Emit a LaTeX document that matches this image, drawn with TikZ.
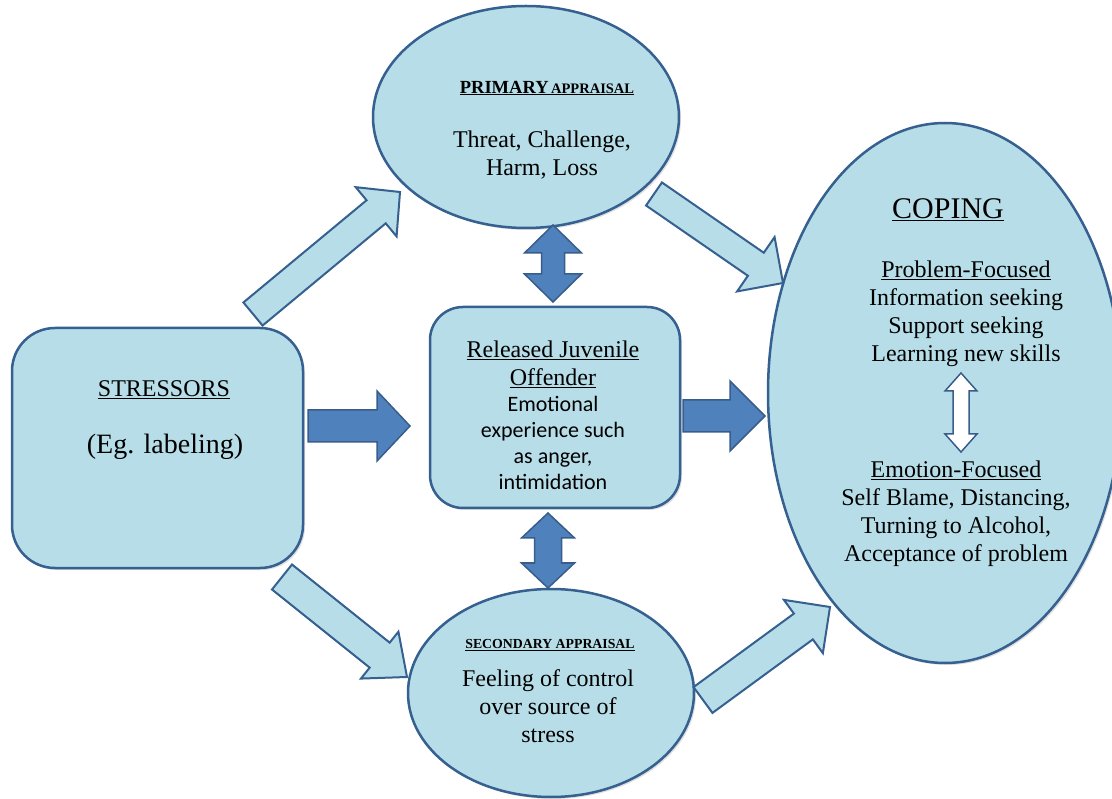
\documentclass[tikz,border=0pt]{standalone}
\usepackage{fontspec}
\setmainfont{Liberation Serif}
\newfontfamily\calib{Carlito}
\usetikzlibrary{shapes.geometric,calc,shadows}
\definecolor{lfill}{HTML}{B7DEE8}
\definecolor{ledge}{HTML}{35608F}
\definecolor{dfill}{HTML}{4F81BD}
\definecolor{dedge}{HTML}{385D8A}
\tikzset{
  shapebox/.style={draw=ledge, line width=2.5pt, fill=lfill, drop shadow={opacity=0.25, shadow xshift=2pt, shadow yshift=-2pt}},
  ell/.style={shapebox, ellipse, inner sep=0pt},
  rbox/.style={shapebox, rectangle, inner sep=0pt},
  lightarrow/.style={draw=ledge, line width=2pt, fill=lfill, line join=miter},
  darkarrow/.style={draw=dedge, line width=1.5pt, fill=dfill, line join=miter},
  whitearrow/.style={draw=dedge, line width=1.5pt, fill=white, line join=miter},
  txt/.style={align=center, inner sep=0pt, font=\fontsize{24}{28}\selectfont},
  sans/.style={align=center, inner sep=0pt, font=\calib\fontsize{22}{26}\selectfont},
}
% block arrow: style, tail, tip, shaft half width, head half width, head length
\newcommand\blockarr[6]{%
  \coordinate (baA) at (#2);
  \coordinate (baB) at (#3);
  \coordinate (baN) at ($(baB)!#6!(baA)$);
  \draw[#1] ($(baA)!#4!90:(baB)$) -- ($(baN)!#4!-90:(baA)$) -- ($(baN)!#5!-90:(baA)$) -- (baB)
    -- ($(baN)!#5!90:(baA)$) -- ($(baN)!#4!90:(baA)$) -- ($(baA)!#4!-90:(baB)$) -- cycle;
}
% vertical double arrow: style, x, ytop, ybottom, shaft half, head half, head length
\newcommand\dblarr[7]{%
  \draw[#1] (#2,#3) -- ({#2+#6},{#3+#7}) -- ({#2+#5},{#3+#7}) -- ({#2+#5},{#4-#7}) -- ({#2+#6},{#4-#7})
    -- (#2,#4) -- ({#2-#6},{#4-#7}) -- ({#2-#5},{#4-#7}) -- ({#2-#5},{#3+#7}) -- ({#2-#6},{#3+#7}) -- cycle;
}
\begin{document}
\begin{tikzpicture}[x=1pt,y=-1pt]
\useasboundingbox (0,0) rectangle (1112,799);
\clip (0,0) rectangle (1112,799);
\fill[white] (0,0) rectangle (1112,799);

% shapes
\node[ell, minimum width=306pt, minimum height=222pt] (prim) at (526,117) {};
\node[ell, minimum width=286pt, minimum height=208pt] (sec) at (551,693) {};
\node[ell, minimum width=354pt, minimum height=540pt] (cop) at (945,393) {};
\node[rbox, rounded corners=43pt, minimum width=291pt, minimum height=240pt] (str) at (157.5,448) {};
\node[rbox, rounded corners=33pt, minimum width=250pt, minimum height=201pt] (juv) at (555,407.5) {};

% light block arrows
\blockarr{lightarrow}{253,314}{400,192}{15pt}{32pt}{31pt}
\blockarr{lightarrow}{654,194}{783,283}{14pt}{33pt}{33pt}
\blockarr{lightarrow}{282,577}{407,677}{16pt}{30pt}{35pt}
\blockarr{lightarrow}{703,700}{830,607}{16pt}{33pt}{33pt}

% dark block arrows
\blockarr{darkarrow}{308,426}{410,426}{16pt}{35pt}{33pt}
\blockarr{darkarrow}{683,416}{765,416}{16pt}{35pt}{35pt}

% double arrows
\dblarr{darkarrow}{553}{225}{302}{11.5}{28.5}{28}
\dblarr{darkarrow}{548}{513}{588}{13.5}{26.5}{25}
\dblarr{whitearrow}{961}{373}{452}{8}{16}{18}

% texts
\node[inner sep=0pt, font=\bfseries] (primh) at (547,88)
  {\underline{{\fontsize{18.5}{19}\selectfont PRIMARY} {\fontsize{14.5}{15}\selectfont APPRAISAL}}};
\node[txt] (primt) at (542,155) {Threat, Challenge,\\Harm, Loss};

\node[inner sep=0pt, font=\bfseries\fontsize{13.8}{14}\selectfont] (sech) at (550,645)
  {\underline{SECONDARY APPRAISAL}};
\node[txt] (sect) at (548,706) {Feeling of control\\over source of\\stress};

\node[txt] (strh) at (164,390) {\underline{STRESSORS}};
\node[inner sep=0pt, font=\fontsize{28}{32}\selectfont] (strt) at (165,447) {(Eg. labeling)};

\node[txt] (juvh) at (553,364) {\underline{Released Juvenile}\\\underline{Offender}};
\node[sans] (juvt) at (553,443) {Emotional\\experience such\\as anger,\\intimidation};

\node[inner sep=0pt, font=\fontsize{30}{34}\selectfont] (coph) at (948,210) {\underline{COPING}};
\node[txt] (pf) at (966,314) {\underline{Problem-Focused}\\Information seeking\\Support seeking\\Learning new skills};
\node[txt] (ef) at (956,514) {\underline{Emotion-Focused}\\Self Blame, Distancing,\\Turning to Alcohol,\\Acceptance of problem};
\end{tikzpicture}
\end{document}
